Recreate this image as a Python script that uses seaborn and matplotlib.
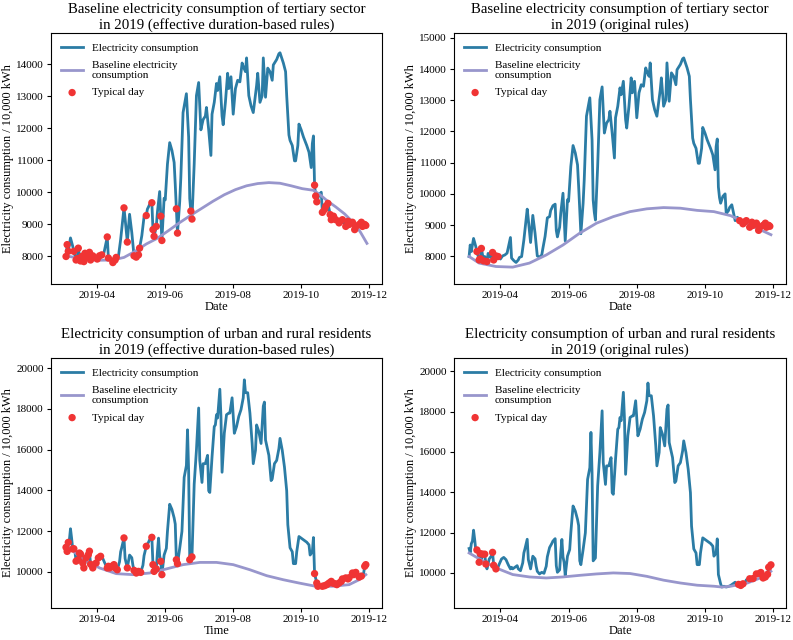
import pandas as pd
import matplotlib
matplotlib.use('Agg')
import matplotlib.pyplot as plt
import matplotlib.dates as mdates
import seaborn as sb

# tertiary sector daily consumption (10,000 kWh)
tert_dates = ['03-04', '03-05', '03-06', '03-08', '03-10', '03-11', '03-13', '03-14', '03-15', '03-17',
              '03-18', '03-20', '03-21', '03-23', '03-25', '03-26', '03-28', '03-30', '04-01', '04-03',
              '04-05', '04-07', '04-10', '04-11', '04-13', '04-15', '04-17', '04-18', '04-20', '04-22',
              '04-25', '04-26', '04-28', '04-30', '05-02', '05-04', '05-06', '05-08', '05-09', '05-11',
              '05-13', '05-15', '05-16', '05-17', '05-18', '05-20', '05-21', '05-22', '05-24', '05-25',
              '05-27', '05-28', '05-29', '05-31', '06-01', '06-03', '06-05', '06-07', '06-09', '06-10',
              '06-11', '06-12', '06-14', '06-15', '06-17', '06-20', '06-22', '06-23', '06-24', '06-25',
              '06-27', '06-29', '07-01', '07-03', '07-05', '07-07', '07-08', '07-10', '07-12', '07-13',
              '07-15', '07-17', '07-18', '07-20', '07-22', '07-23', '07-25', '07-27', '07-28', '07-30',
              '08-01', '08-03', '08-05', '08-07', '08-09', '08-10', '08-12', '08-13', '08-15', '08-17',
              '08-19', '08-22', '08-23', '08-25', '08-27', '08-28', '08-30', '09-01', '09-03', '09-05',
              '09-06', '09-09', '09-11', '09-12', '09-15', '09-17', '09-18', '09-20', '09-21', '09-23',
              '09-25', '09-26', '09-28', '09-29', '10-01', '10-03', '10-06', '10-08', '10-10', '10-11',
              '10-12', '10-13', '10-14', '10-15', '10-17', '10-19', '10-20', '10-22', '10-23', '10-25',
              '10-27', '10-28', '10-30', '11-01', '11-04', '11-05', '11-07', '11-10', '11-12', '11-13',
              '11-16', '11-18', '11-19', '11-22', '11-24', '11-25', '11-27', '11-28']
tert_kwh = [7990, 8360, 8150, 8570, 8310, 8150, 7880, 7920, 8250, 7850,
            7990, 7830, 8090, 7960, 8120, 7880, 8010, 7990, 7910, 8010,
            8040, 8100, 8600, 7940, 7860, 7800, 7880, 7960, 7990, 8520,
            9510, 9170, 8440, 9310, 8740, 8010, 7970, 8040, 8250, 8640,
            9230, 9270, 9470, 9540, 9620, 9670, 8830, 8620, 8930, 9380,
            10020, 9250, 8490, 9810, 9760, 10880, 11550, 11310, 10930, 10240,
            9480, 8720, 9700, 10450, 12490, 13080, 11730, 9800, 9410, 9160,
            10880, 13020, 13430, 11950, 12270, 12380, 12650, 11950, 11150, 12440,
            12810, 13400, 13180, 13610, 12380, 12110, 12810, 13720, 13240, 13610,
            12440, 13240, 13500, 13450, 14040, 13930, 13770, 14200, 13020, 12700,
            12490, 13340, 13720, 12810, 13020, 14200, 12970, 13880, 13770, 13500,
            13980, 14150, 14330, 14360, 14040, 13770, 13020, 11790, 11620, 11460,
            10980, 10980, 11460, 12130, 11950, 11730, 11460, 11250, 10770, 11520,
            11760, 10220, 9880, 9700, 9920, 10000, 9370, 9460, 9560, 9650,
            9300, 9140, 9250, 9140, 9040, 9090, 9140, 8930, 9090, 8990,
            9060, 8830, 8930, 8990, 9060, 8930, 8990, 8960]

# urban and rural residents daily consumption (10,000 kWh)
res_dates = ['03-04', '03-05', '03-06', '03-07', '03-08', '03-09', '03-10', '03-11', '03-12', '03-13',
             '03-14', '03-15', '03-16', '03-17', '03-18', '03-19', '03-20', '03-22', '03-24', '03-25',
             '03-26', '03-28', '03-30', '03-31', '04-02', '04-04', '04-06', '04-08', '04-10', '04-11',
             '04-12', '04-14', '04-16', '04-17', '04-19', '04-21', '04-22', '04-23', '04-25', '04-26',
             '04-28', '04-30', '05-02', '05-03', '05-04', '05-06', '05-08', '05-10', '05-12', '05-13',
             '05-15', '05-17', '05-18', '05-20', '05-21', '05-22', '05-24', '05-25', '05-26', '05-27',
             '05-28', '05-29', '05-31', '06-02', '06-03', '06-05', '06-07', '06-09', '06-10', '06-11',
             '06-12', '06-14', '06-16', '06-18', '06-20', '06-21', '06-22', '06-23', '06-25', '06-27',
             '06-29', '07-01', '07-02', '07-04', '07-05', '07-07', '07-09', '07-10', '07-11', '07-13',
             '07-15', '07-16', '07-17', '07-18', '07-20', '07-21', '07-22', '07-24', '07-26', '07-28',
             '07-29', '07-31', '08-02', '08-04', '08-06', '08-08', '08-10', '08-11', '08-12', '08-14',
             '08-16', '08-18', '08-19', '08-21', '08-22', '08-24', '08-26', '08-28', '08-29', '08-30',
             '09-02', '09-04', '09-05', '09-07', '09-09', '09-11', '09-12', '09-14', '09-16', '09-18',
             '09-19', '09-21', '09-23', '09-24', '09-26', '09-27', '09-29', '10-01', '10-03', '10-06',
             '10-08', '10-09', '10-11', '10-12', '10-13', '10-15', '10-16', '10-18', '10-20', '10-22',
             '10-24', '10-26', '10-28', '10-29', '10-31', '11-02', '11-04', '11-06', '11-07', '11-10',
             '11-12', '11-13', '11-16', '11-17', '11-19', '11-20', '11-22', '11-24', '11-26', '11-27',
             '11-28', '11-29']
res_kwh = [11210, 11010, 11450, 11580, 12120, 11660, 11130, 11140, 11000, 10530,
           10960, 10600, 10930, 10880, 10930, 10440, 10200, 10690, 10850, 11020,
           10380, 10200, 10300, 10440, 10690, 10770, 10660, 10410, 10200, 10280,
           10200, 10280, 10360, 10200, 10110, 10500, 10990, 11200, 11670, 10660,
           10200, 10830, 10700, 10330, 10080, 9950, 10030, 9980, 10330, 10800,
           11260, 11460, 11580, 11700, 10360, 10030, 10150, 10990, 11660, 10800,
           10520, 9870, 10830, 11160, 11990, 13320, 13070, 12650, 12350, 10600,
           10410, 11160, 11990, 14640, 15220, 16970, 14970, 10600, 10740, 14310,
           15970, 18040, 15470, 14390, 15310, 15310, 15720, 13980, 13900, 15640,
           17130, 17210, 17710, 17550, 18960, 17630, 14890, 16800, 17710, 17790,
           17790, 18540, 16800, 17130, 17630, 17960, 18540, 19420, 18790, 18790,
           17790, 16300, 15310, 15970, 17210, 16880, 16300, 18130, 18330, 16470,
           15720, 14480, 14560, 15310, 15470, 16050, 16550, 15970, 15140, 13980,
           12320, 11190, 10990, 10410, 10410, 10990, 11740, 11660, 11580, 11460,
           11330, 10830, 10990, 11690, 9920, 9460, 9300, 9340, 9300, 9330,
           9380, 9460, 9540, 9460, 9430, 9380, 9460, 9540, 9660, 9710,
           9660, 9720, 9950, 9870, 9980, 10020, 9750, 9800, 9930, 10280,
           10360, 10400]

# typical days picked by each rule
typical_tert_eff = ['03-04', '03-05', '03-06', '03-11', '03-13', '03-14', '03-15', '03-17', '03-18', '03-20',
                    '03-21', '03-23', '03-25', '03-26', '03-28', '04-01', '04-03', '04-05', '04-10', '04-11',
                    '04-15', '04-17', '04-18', '04-25', '04-28', '05-04', '05-06', '05-08', '05-09', '05-15',
                    '05-20', '05-21', '05-22', '05-24', '05-28', '05-29', '06-11', '06-12', '06-24', '06-25',
                    '10-13', '10-14', '10-15', '10-20', '10-22', '10-23', '10-25', '10-27', '10-28', '10-30',
                    '11-01', '11-04', '11-05', '11-07', '11-10', '11-12', '11-13', '11-16', '11-18', '11-19',
                    '11-22', '11-24', '11-25', '11-27', '11-28']
typical_tert_orig = ['03-11', '03-13', '03-14', '03-15', '03-17', '03-20', '03-25', '03-26', '03-28', '03-30',
                     '11-01', '11-04', '11-05', '11-07', '11-10', '11-12', '11-13', '11-16', '11-18', '11-19',
                     '11-22', '11-24', '11-25', '11-27', '11-28']
typical_res_eff = ['03-04', '03-05', '03-06', '03-10', '03-11', '03-13', '03-15', '03-16', '03-17', '03-19',
                   '03-20', '03-22', '03-24', '03-25', '03-26', '03-28', '03-31', '04-02', '04-04', '04-10',
                   '04-11', '04-12', '04-14', '04-16', '04-17', '04-19', '04-25', '04-28', '05-04', '05-06',
                   '05-08', '05-10', '05-15', '05-20', '05-21', '05-22', '05-24', '05-28', '05-29', '06-11',
                   '06-12', '06-23', '06-25', '10-13', '10-15', '10-16', '10-20', '10-22', '10-24', '10-26',
                   '10-28', '10-29', '10-31', '11-02', '11-04', '11-06', '11-07', '11-10', '11-12', '11-13',
                   '11-16', '11-17', '11-19', '11-22', '11-24', '11-27', '11-28']
typical_res_orig = ['03-11', '03-13', '03-14', '03-16', '03-18', '03-19', '03-25', '03-26', '03-28',
                    '10-31', '11-02', '11-04', '11-10', '11-13', '11-16', '11-19', '11-20', '11-22', '11-24',
                    '11-26', '11-27', '11-29']

# baseline curves
base_tert_eff_dates = ['03-04', '03-18', '04-01', '04-15', '04-25', '05-05', '05-15', '05-25', '06-04', '06-14',
                       '06-24', '07-04', '07-14', '07-24', '08-03', '08-13', '08-23', '09-02', '09-12', '09-22',
                       '10-02', '10-12', '10-18', '10-24', '11-01', '11-09', '11-17', '11-23', '11-29']
base_tert_eff = [8010, 7920, 7870, 7880, 7960, 8150, 8380, 8560, 8800, 9050,
                 9280, 9500, 9720, 9920, 10080, 10200, 10270, 10300, 10280, 10200,
                 10110, 10060, 9920, 9740, 9540, 9320, 9040, 8760, 8400]
base_tert_orig_dates = ['03-04', '03-13', '03-28', '04-12', '04-27', '05-12', '05-27', '06-11', '06-26', '07-11',
                        '07-26', '08-10', '08-25', '09-09', '09-24', '10-09', '10-24', '11-08', '11-23', '11-29']
base_tert_orig = [7990, 7780, 7670, 7650, 7780, 8040, 8360, 8740, 9060, 9270,
                  9430, 9520, 9560, 9540, 9470, 9430, 9300, 9040, 8790, 8690]
base_res_eff_dates = ['03-04', '03-12', '03-22', '03-29', '04-03', '04-18', '05-03', '05-18', '06-02', '06-17',
                      '07-02', '07-17', '08-01', '08-16', '08-31', '09-15', '09-29', '10-14', '10-29', '11-13',
                      '11-22', '11-28']
base_res_eff = [11300, 10950, 10550, 10360, 10200, 9920, 9870, 9950, 10150, 10360,
                10470, 10470, 10360, 10110, 9820, 9620, 9460, 9300, 9300, 9380,
                9620, 9870]
base_res_orig_dates = ['03-04', '03-13', '03-28', '04-12', '04-27', '05-12', '05-27', '06-11', '06-26', '07-11',
                       '07-26', '08-10', '08-25', '09-09', '09-24', '10-09', '10-16', '10-24', '11-08', '11-23',
                       '11-29']
base_res_orig = [10990, 10700, 10250, 9920, 9800, 9750, 9800, 9880, 9950, 10000,
                 9970, 9830, 9640, 9500, 9390, 9340, 9300, 9340, 9500, 9830,
                 10080]


def to_dt(days):
    return pd.to_datetime(['2019-' + d for d in days])


tert = pd.Series(tert_kwh, index=to_dt(tert_dates))
res = pd.Series(res_kwh, index=to_dt(res_dates))

panels = [
    ('Baseline electricity consumption of tertiary sector\nin 2019 (effective duration-based rules)',
     tert, base_tert_eff_dates, base_tert_eff, typical_tert_eff, 'Date', (7130, 14980), 1000),
    ('Baseline electricity consumption of tertiary sector\nin 2019 (original rules)',
     tert, base_tert_orig_dates, base_tert_orig, typical_tert_orig, 'Date', (7110, 15160), 1000),
    ('Electricity consumption of urban and rural residents\nin 2019 (effective duration-based rules)',
     res, base_res_eff_dates, base_res_eff, typical_res_eff, 'Time', (8235, 20490), 2000),
    ('Electricity consumption of urban and rural residents\nin 2019 (original rules)',
     res, base_res_orig_dates, base_res_orig, typical_res_orig, 'Date', (8260, 20660), 2000),
]
positions = [[0.0643, 0.5563, 0.4174, 0.3922], [0.5725, 0.5563, 0.4187, 0.3922],
             [0.0643, 0.05, 0.4174, 0.3906], [0.5725, 0.05, 0.4187, 0.3906]]

plt.rcParams['font.family'] = ['Liberation Serif', 'DejaVu Serif']

fig = plt.figure(figsize=(7.93, 6.4), dpi=100)

for (title, series, bdates, bvals, typ, xlab, ylim, ystep), pos in zip(panels, positions):
    ax = fig.add_axes(pos)
    sb.lineplot(x=series.index, y=series.values, ax=ax, color='#2b7ca5', lw=2,
                label='Electricity consumption')
    sb.lineplot(x=to_dt(bdates), y=bvals, ax=ax, color='#9896cc', lw=2,
                label='Baseline electricity\nconsumption')
    typ_dt = to_dt(typ)
    sb.scatterplot(x=typ_dt, y=series.reindex(typ_dt).values, ax=ax, color='#f03434',
                   s=28, edgecolor='none', zorder=3, label='Typical day')
    ax.set_ylim(*ylim)
    ax.yaxis.set_major_locator(plt.MultipleLocator(ystep))
    ax.xaxis.set_major_locator(mdates.MonthLocator(bymonth=[4, 6, 8, 10, 12]))
    ax.xaxis.set_major_formatter(mdates.DateFormatter('%Y-%m'))
    ax.tick_params(labelsize=8, pad=2, length=3)
    ax.set_title(title, fontsize=10.7, pad=3, linespacing=1.2)
    ax.set_xlabel(xlab, fontsize=9, labelpad=1)
    ax.set_ylabel('Electricity consumption / 10,000 kWh', fontsize=8.8, labelpad=2)
    ax.legend(loc='upper left', frameon=False, fontsize=8, labelspacing=0.7)

fig.savefig('out.png', dpi=100)
